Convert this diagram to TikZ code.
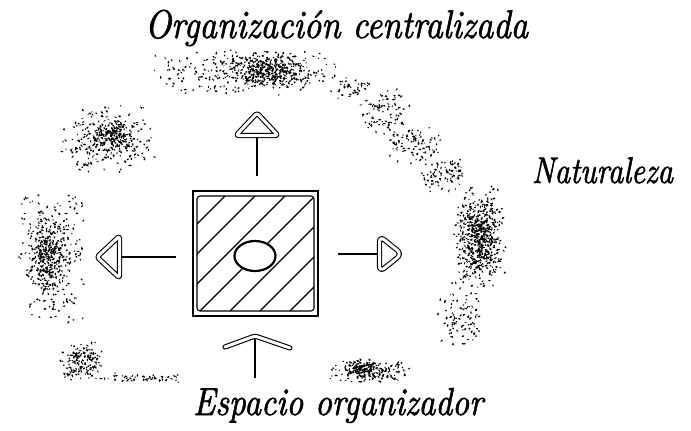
\documentclass[tikz,border=0pt]{standalone}
\usepackage{fontspec}
\newfontfamily\rotulo{lmroman10-italic}[Extension=.otf, FakeBold=1.6]
\usepackage{tikz}
\usetikzlibrary{shapes.geometric}

% punteado aleatorio: centro x, centro y, radio x, radio y, puntos
\newcommand{\nube}[5]{%
  \foreach \k in {1,...,#5}{%
    \pgfmathsetmacro{\dx}{#3*(0.65*rand+0.35*rand)}%
    \pgfmathsetmacro{\dy}{#4*(0.65*rand+0.35*rand)}%
    \pgfmathsetmacro{\ra}{0.7+1.1*rnd}%
    \pgfmathsetmacro{\rb}{0.5+0.6*rnd}%
    \pgfmathsetmacro{\ang}{180*rnd}%
    \fill (#1+\dx,#2+\dy) ellipse[x radius=\ra pt, y radius=\rb pt, rotate=\ang];
  }}
% texto con ancho fijo y altura natural
\newcommand{\ancho}[2]{\resizebox{#1pt}{\height}{#2}}

\begin{document}
\begin{tikzpicture}[x=1pt, y=-1pt, line width=1.1pt,
  texto/.style={inner sep=0pt, anchor=base, font=\rotulo\fontsize{40}{44}\selectfont},
  punta/.style={draw, double=white, double distance=3pt, line width=1.1pt, line join=round, rounded corners=2.5pt}]
\useasboundingbox (0,0) rectangle (691,431);
\pgfmathsetseed{41}

% naturaleza alrededor
\foreach \cx/\cy/\rx/\ry/\num in {
    245/72/95/24/300, 268/70/42/18/300,
    108/140/50/36/230, 115/136/24/18/160,
    52/258/34/66/300, 46/255/18/36/220,
    82/362/22/20/160, 140/378/55/5/50,
    352/88/18/12/40, 385/112/26/26/90, 415/145/28/22/90, 445/175/26/18/90,
    478/240/28/56/380, 482/238/16/40/240, 460/320/24/30/90,
    370/372/42/12/150, 362/368/18/9/100}
  {\nube{\cx}{\cy}{\rx}{\ry}{\num}}

% espacio central
\node[draw, line width=1.3pt, minimum size=125pt, inner sep=0pt] (centro) at (255.5,253.5) {};
\begin{scope}
  \clip[rounded corners=3pt] (197,196) rectangle (314,311);
  \foreach \c in {421,451,...,601}
    \draw (\c-196,196) -- (\c-311,311);
\end{scope}
\draw[rounded corners=3pt] (197,196) rectangle (314,311);
\node[draw, ellipse, line width=2.2pt, fill=white, minimum width=41pt, minimum height=30pt] (nucleo) at (255,256) {};

% flechas
\coordinate (tN) at (257,138);
\coordinate (sN) at (257,176);
\coordinate (tW) at (122,257);
\coordinate (sW) at (176,257);
\coordinate (tE) at (377,254);
\coordinate (sE) at (338,254);
\coordinate (tS) at (255,336);
\coordinate (sS) at (255,378);
\draw (sN) -- (tN);
\draw (sW) -- (tW);
\draw (sE) -- (tE);
\draw (sS) -- (tS);
\draw[punta, shift={(tN)}] (-21,-2.5) -- (0,-25) -- (21,-2.5) -- cycle;
\draw[punta, shift={(tW)}] (-2.5,-21) -- (-25,0) -- (-2.5,21) -- cycle;
\draw[punta, shift={(tE)}, rounded corners=6pt] (2.5,-18) -- (25,0) -- (2.5,18) -- cycle;
\draw[punta, line cap=round] (225,347) -- (tS) -- (290,348);

% textos
\node[texto] (arriba) at (336.5,38) {\ancho{383}{Organización centralizada}};
\node[texto, font=\rotulo\fontsize{37}{40}\selectfont] (derecha) at (602.5,183) {\ancho{141}{Naturaleza}};
\node[texto, font=\rotulo\fontsize{39}{44}\selectfont] (abajo) at (338,415) {\ancho{290}{Espacio organizador}};
\end{tikzpicture}
\end{document}
